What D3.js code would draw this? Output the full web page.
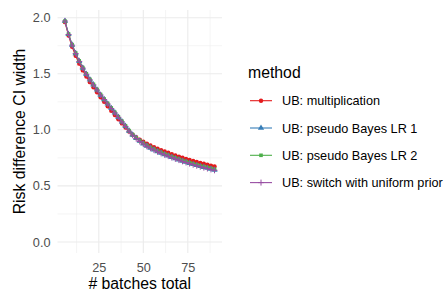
<!DOCTYPE html>
<html><head><meta charset="utf-8">
<script src="https://cdn.jsdelivr.net/npm/d3@7"></script>
<style>body{margin:0;background:#fff}svg{display:block;font-family:"Liberation Sans",Arial,sans-serif}</style>
</head><body><div id="chart"></div>
<script>
const batches = [6,8,10,12,14,16,18,20,22,24,26,28,30,32,34,36,38,40,42,44,46,48,50,52,54,56,58,60,62,64,66,68,70,72,74,76,78,80,82,84,86,88,90];
const multiplication = [1.96,1.84,1.74,1.66,1.59,1.53,1.475,1.425,1.38,1.335,1.29,1.25,1.21,1.17,1.132,1.094,1.057,1.02,0.985,0.957,0.934,0.913,0.894,0.877,0.861,0.846,0.832,0.819,0.807,0.795,0.783,0.772,0.761,0.751,0.741,0.731,0.722,0.713,0.705,0.697,0.689,0.681,0.673];
const pseudoBayes1 = [1.97,1.852,1.757,1.682,1.612,1.552,1.497,1.447,1.402,1.357,1.312,1.272,1.232,1.192,1.153,1.113,1.073,1.032,0.99,0.955,0.926,0.9,0.877,0.857,0.839,0.823,0.808,0.794,0.781,0.769,0.757,0.745,0.734,0.723,0.713,0.703,0.693,0.684,0.675,0.667,0.659,0.651,0.643];
const pseudoBayes2 = [1.97,1.855,1.76,1.685,1.615,1.555,1.50,1.45,1.405,1.36,1.315,1.275,1.235,1.195,1.156,1.117,1.077,1.035,0.993,0.957,0.928,0.903,0.88,0.86,0.843,0.827,0.812,0.798,0.785,0.773,0.761,0.749,0.738,0.727,0.717,0.707,0.698,0.689,0.68,0.672,0.664,0.656,0.648];
const switchUniform = [1.97,1.85,1.755,1.68,1.61,1.55,1.495,1.445,1.40,1.355,1.31,1.27,1.23,1.19,1.151,1.111,1.071,1.03,0.988,0.952,0.922,0.896,0.873,0.853,0.835,0.819,0.804,0.79,0.777,0.765,0.753,0.741,0.73,0.719,0.709,0.699,0.689,0.68,0.671,0.663,0.655,0.647,0.639];
const methods = ["UB: multiplication","UB: pseudo Bayes LR 1","UB: pseudo Bayes LR 2","UB: switch with uniform prior"];
const colors = ["#E41A1C","#377EB8","#4DAF4A","#984EA3"];
const xTicks = [25,50,75];
const yTicks = [0,0.5,1.0,1.5,2.0];
const seriesValues = [multiplication, pseudoBayes1, pseudoBayes2, switchUniform];

const W=444,H=295;
const svg=d3.select("#chart").append("svg").attr("width",W).attr("height",H);
const x=d3.scaleLinear().domain([1.8,94.2]).range([57.5,222]);
const y=d3.scaleLinear().domain([-0.0985,2.0685]).range([253,10]);
const [x0,x1]=x.range(), [y0,y1]=y.range();

const plusPath="M-3,0H3M0,-3V3";
const shapes=[d3.symbol().type(d3.symbolCircle).size(15)(), d3.symbol().type(d3.symbolTriangle).size(17)(), d3.symbol().type(d3.symbolSquare).size(13)(), plusPath];

const grid=svg.append("g");
const xMinor=[12.5,37.5,62.5,87.5], yMinor=[0.25,0.75,1.25,1.75];
grid.selectAll(".xm").data(xMinor).join("line").attr("x1",d=>x(d)).attr("x2",d=>x(d)).attr("y1",y0).attr("y2",y1).attr("stroke","#ebebeb").attr("stroke-width",0.55);
grid.selectAll(".ym").data(yMinor).join("line").attr("y1",d=>y(d)).attr("y2",d=>y(d)).attr("x1",x0).attr("x2",x1).attr("stroke","#ebebeb").attr("stroke-width",0.55);
grid.selectAll(".xM").data(xTicks).join("line").attr("x1",d=>x(d)).attr("x2",d=>x(d)).attr("y1",y0).attr("y2",y1).attr("stroke","#ebebeb").attr("stroke-width",1.1);
grid.selectAll(".yM").data(yTicks).join("line").attr("y1",d=>y(d)).attr("y2",d=>y(d)).attr("x1",x0).attr("x2",x1).attr("stroke","#ebebeb").attr("stroke-width",1.1);

const xa=svg.append("g").attr("transform",`translate(0,${y0})`).call(d3.axisBottom(x).tickValues(xTicks).tickSize(0).tickPadding(10).tickFormat(d3.format("d")));
xa.select(".domain").remove();
xa.selectAll("text").attr("fill","#4d4d4d").style("font-size","12.7px").style("font-family","Liberation Sans, Arial, sans-serif");
const ya=svg.append("g").attr("transform",`translate(${x0},0)`).call(d3.axisLeft(y).tickValues(yTicks).tickSize(0).tickPadding(7).tickFormat(d3.format(".1f")));
ya.select(".domain").remove();
ya.selectAll("text").attr("fill","#4d4d4d").style("font-size","12.7px").style("font-family","Liberation Sans, Arial, sans-serif");

svg.append("text").attr("x",(x0+x1)/2).attr("y",289).attr("text-anchor","middle").style("font-size","15.8px").attr("fill","#000").text("# batches total");
svg.append("text").attr("transform",`translate(25,${(y0+y1)/2}) rotate(-90)`).attr("text-anchor","middle").style("font-size","15.8px").attr("fill","#000").text("Risk difference CI width");

const line=d3.line().x(d=>x(d[0])).y(d=>y(d[1]));
seriesValues.forEach((vals,i)=>{
  const pts=batches.map((b,j)=>[b,vals[j]]);
  const g=svg.append("g");
  g.append("path").datum(pts).attr("d",line).attr("fill","none").attr("stroke",colors[i]).attr("stroke-width",1.1);
  g.selectAll("path.pt").data(pts).join("path").attr("class","pt")
   .attr("transform",d=>`translate(${x(d[0])},${y(d[1])})`)
   .attr("d",shapes[i]).attr("fill",i===3?"none":colors[i]).attr("stroke",i===3?colors[i]:"none").attr("stroke-width",1);
});

const lg=svg.append("g");
lg.append("text").attr("x",248).attr("y",78).style("font-size","15.8px").attr("fill","#000").text("method");
methods.forEach((m,i)=>{
  const cy=100.7+i*27.3;
  lg.append("line").attr("x1",250).attr("x2",272).attr("y1",cy).attr("y2",cy).attr("stroke",colors[i]).attr("stroke-width",1.1);
  lg.append("path").attr("transform",`translate(261,${cy})`).attr("d",shapes[i]).attr("fill",i===3?"none":colors[i]).attr("stroke",i===3?colors[i]:"none").attr("stroke-width",1);
  lg.append("text").attr("x",282).attr("y",cy+4.5).style("font-size","12.7px").attr("fill","#000").text(m);
});
</script></body></html>
